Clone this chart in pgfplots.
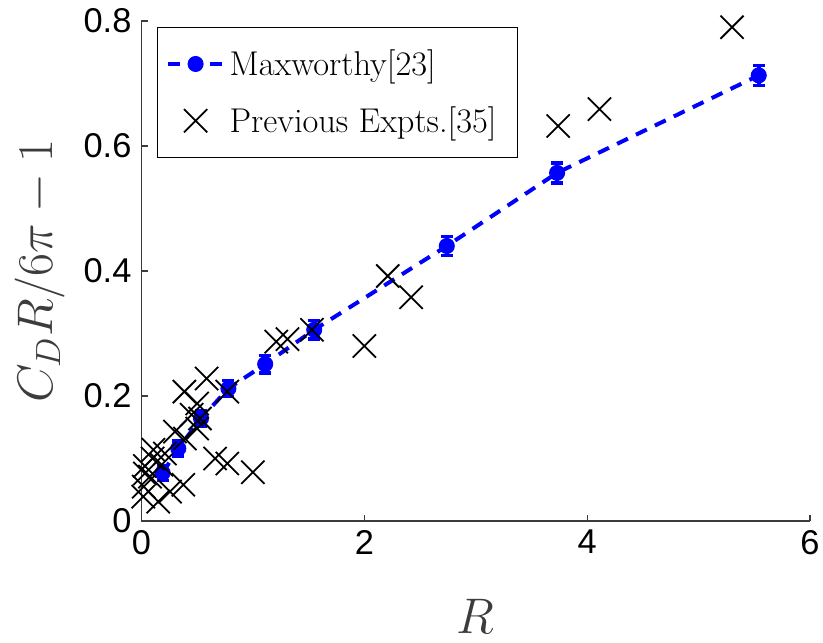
\RequirePackage{fix-cm}
\documentclass[border=0pt]{standalone}
\usepackage{fontspec}
\newfontfamily\helv{Liberation Sans}
\usepackage{pgfplots}
\usepackage{pgfplotstable}
\pgfplotsset{compat=1.18}

% Maxworthy measurements with error bars
\pgfplotstableread{
x     y      ey
0.19  0.077  0.012
0.33  0.116  0.012
0.534 0.164  0.012
0.78  0.212  0.013
1.11  0.251  0.014
1.55  0.306  0.015
2.74  0.440  0.015
3.73  0.557  0.016
5.54  0.713  0.016
}\maxworthy

% Earlier experiments
\pgfplotstableread{
x     y
5.30  0.790
4.11  0.659
3.74  0.632
2.42  0.358
2.21  0.392
2.00  0.280
1.53  0.306
1.31  0.291
1.21  0.287
1.00  0.078
0.77  0.092
0.66  0.100
0.77  0.207
0.585 0.228
0.385 0.207
0.50  0.188
0.525 0.164
0.50  0.148
0.30  0.143
0.39  0.132
0.106 0.114
0.21  0.108
0.03  0.088
0.03  0.076
0.076 0.071
0.375 0.058
0.256 0.047
0.016 0.039
0.15  0.031
0.02  0.055
0.10  0.100
0.18  0.090
0.45  0.170
}\previous

\definecolor{axgray}{RGB}{60,60,60}

\begin{document}
\begin{tikzpicture}
\useasboundingbox (-70.75pt,-60.5pt) rectangle (340.75pt,260.5pt);
\begin{axis}[
  at={(0pt,0pt)}, anchor=south west,
  scale only axis,
  width=334.25pt, height=250pt,
  xmin=0, xmax=6, ymin=0, ymax=0.8,
  xtick={0,2,4,6}, ytick={0,0.2,0.4,0.6,0.8},
  axis x line*=bottom, axis y line*=left,
  axis line style={axgray, line width=0.6pt, -},
  tick style={axgray, line width=0.6pt},
  tick align=inside, major tick length=3pt,
  /pgf/number format/assume math mode=true,
  tick label style={font=\helv\fontsize{17.2}{20}\selectfont},
  yticklabel style={xshift=-1.5pt},
  xticklabel style={yshift=-1pt},
  xlabel={$R$},
  ylabel={$C_D R/6\pi - 1$},
  label style={font=\fontsize{25}{30}\selectfont, text=axgray},
  xlabel style={at={(axis description cs:0.5,-0.19)}, anchor=center},
  ylabel style={at={(axis description cs:-0.1518,0.5)}, anchor=center},
  clip=false,
  legend style={
    at={(axis description cs:0,1)}, anchor=north west,
    xshift=7.75pt, yshift=-3pt,
    draw=black, line width=0.6pt,
    font=\fontsize{17.2}{20}\selectfont,
    inner xsep=4pt, inner ysep=9pt,
    row sep=10pt,
    legend cell align=left,
  },
  legend image code/.code={
    \draw[mark repeat=2,mark phase=2] plot coordinates {(0pt,0pt) (14pt,0pt) (28pt,0pt)};
  },
]
\addplot[
  blue, line width=2pt, dash pattern=on 6pt off 4.5pt,
  mark=*, mark size=3pt, mark options={solid, fill=blue},
  error bars/.cd, y dir=both, y explicit,
  error bar style={line width=1.8pt, solid, blue},
  error mark options={rotate=90, mark size=3pt, line width=1.8pt, blue, solid},
] table[x=x, y=y, y error=ey] {\maxworthy};
\addlegendentry{Maxworthy[23]}

\addplot[
  only marks, black, mark=x, mark size=8.2pt,
  mark options={line width=0.9pt},
] table[x=x, y=y] {\previous};
\addlegendentry{Previous Expts.[35]\hspace*{4.5pt}}
\end{axis}
\end{tikzpicture}
\end{document}
